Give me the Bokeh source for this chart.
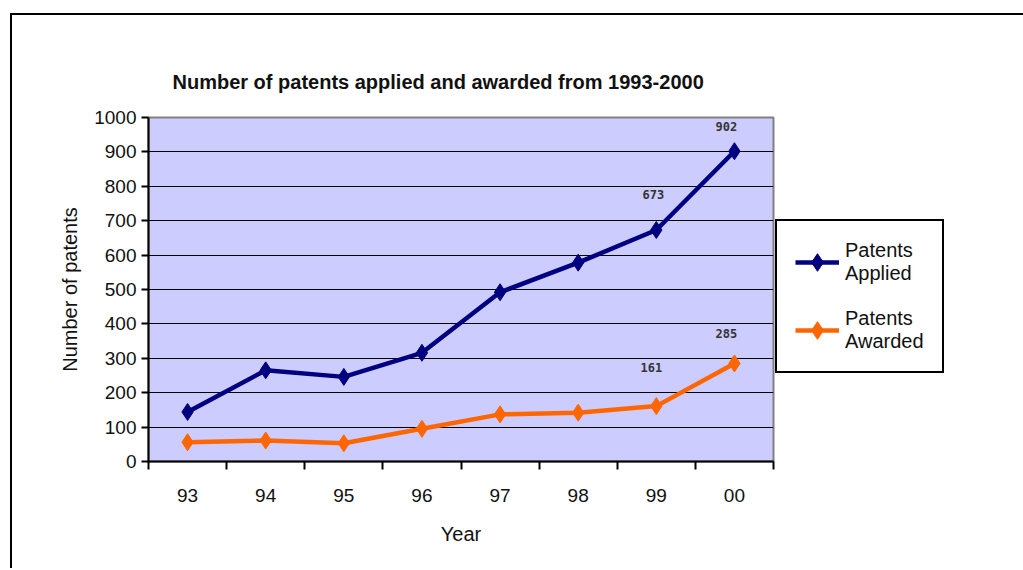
from bokeh.plotting import figure
from bokeh.models import (FixedTicker, Range1d, ColumnDataSource, Legend, LegendItem,
                          LabelSet)
from bokeh.core.properties import value
from bokeh.embed import file_html
from bokeh.resources import INLINE

# ---- data ----
years = ["93", "94", "95", "96", "97", "98", "99", "00"]
applied = [144, 265, 246, 316, 492, 578, 673, 902]
awarded = [56, 61, 53, 95, 137, 142, 161, 285]
labelled_years = ["99", "00"]
y_ticks = [0, 100, 200, 300, 400, 500, 600, 700, 800, 900, 1000]

title = "Number of patents applied and awarded from 1993-2000"
x_title = "Year"
y_title = "Number of patents"
name_applied = "Patents\nApplied"
name_awarded = "Patents\nAwarded"

# ---- styling ----
FONT = "Liberation Sans"
TXT = "#111111"
NAVY = "#000080"
ORANGE = "#FF6600"

xs = [i + 0.5 for i in range(len(years))]

p = figure(frame_width=625, frame_height=344, output_backend="svg",
           toolbar_location=None,
           x_range=Range1d(0, len(years)), y_range=Range1d(0, 1000),
           min_border_left=136, min_border_top=102, min_border_right=247,
           min_border_bottom=107, background_fill_color="#CCCCFF",
           border_fill_color="white", outline_line_color="#808080",
           outline_line_width=2)
p.styles = {"position": "relative", "top": "13px", "left": "10px",
            "border-top": "2px solid black", "border-left": "2px solid black"}

p.title.text = title
p.title.text_font = FONT
p.title.text_font_size = "20px"
p.title.text_font_style = "bold"
p.title.text_color = TXT
p.title.align = "left"
p.title.offset = 24
p.title.standoff = 50

# x axis: labels at category centres, ticks at category boundaries
xa = p.xaxis[0]
xa.ticker = FixedTicker(ticks=xs, minor_ticks=list(range(len(years) + 1)))
xa.major_label_overrides = {x: y for x, y in zip(xs, years)}
xa.major_tick_out = 0
xa.major_tick_in = 0
xa.minor_tick_out = 8
xa.minor_tick_in = 0
xa.minor_tick_line_color = "black"
xa.minor_tick_line_width = 2
xa.axis_line_color = "black"
xa.axis_line_width = 2
xa.major_label_text_font = FONT
xa.major_label_text_font_size = "19px"
xa.major_label_text_color = TXT
xa.major_label_standoff = 19
xa.axis_label = x_title
xa.axis_label_text_font = FONT
xa.axis_label_text_font_size = "20px"
xa.axis_label_text_font_style = "normal"
xa.axis_label_text_color = TXT
xa.axis_label_standoff = 18

ya = p.yaxis[0]
ya.ticker = FixedTicker(ticks=y_ticks)
ya.minor_tick_line_color = None
ya.major_tick_out = 7
ya.major_tick_in = 0
ya.major_tick_line_width = 2
ya.major_tick_line_color = "black"
ya.axis_line_color = "black"
ya.axis_line_width = 2
ya.major_label_text_font = FONT
ya.major_label_text_font_size = "19px"
ya.major_label_text_color = TXT
ya.major_label_standoff = 5
ya.axis_label = y_title
ya.axis_label_text_font = FONT
ya.axis_label_text_font_size = "20px"
ya.axis_label_text_font_style = "normal"
ya.axis_label_text_color = TXT
ya.axis_label_standoff = 10

p.xgrid.visible = False
p.ygrid.ticker = FixedTicker(ticks=y_ticks[1:-1])
p.ygrid.grid_line_color = "black"
p.ygrid.grid_line_width = 1.2

src = ColumnDataSource(dict(x=xs, applied=applied, awarded=awarded, year=years))

l1 = p.line("x", "applied", source=src, line_color=NAVY, line_width=4.5)
m1 = p.scatter("x", "applied", source=src, marker="diamond", size=17,
               fill_color=NAVY, line_color=NAVY)
l2 = p.line("x", "awarded", source=src, line_color=ORANGE, line_width=4.5)
m2 = p.scatter("x", "awarded", source=src, marker="diamond", size=17,
               fill_color=ORANGE, line_color=ORANGE)

# data labels for last points
lab_idx = [years.index(y) for y in labelled_years]
lab_x = [xs[i] for i in lab_idx] * 2
lab_y = [applied[i] for i in lab_idx] + [awarded[i] for i in lab_idx]
lab_t = [str(v) for v in lab_y]
lab_dx = [-3, -8, -5, -8]
lab_dy = [35, 25, 39, 30]
lsrc = ColumnDataSource(dict(x=lab_x, y=lab_y, t=lab_t, dx=lab_dx, dy=lab_dy))
p.add_layout(LabelSet(x="x", y="y", text="t", source=lsrc, x_offset="dx",
                      y_offset="dy", text_align="center", text_baseline="middle",
                      text_font=value("DejaVu Sans Mono"), text_font_size="12px",
                      text_font_style="bold", text_color="#333333"))

legend = Legend(items=[LegendItem(label=name_applied, renderers=[l1, m1]),
                       LegendItem(label=name_awarded, renderers=[l2, m2])],
                location=(2, 88), orientation="vertical",
                border_line_color="black", border_line_width=2,
                border_line_alpha=1,
                background_fill_color="white", background_fill_alpha=1,
                label_text_font=FONT, label_text_font_size="20px",
                label_text_line_height=1.3,
                label_text_color=TXT, glyph_width=44, glyph_height=44,
                label_standoff=6, padding=18, spacing=22, margin=0)
p.add_layout(legend, "right")

open("out.html", "w").write(file_html(p, INLINE))
